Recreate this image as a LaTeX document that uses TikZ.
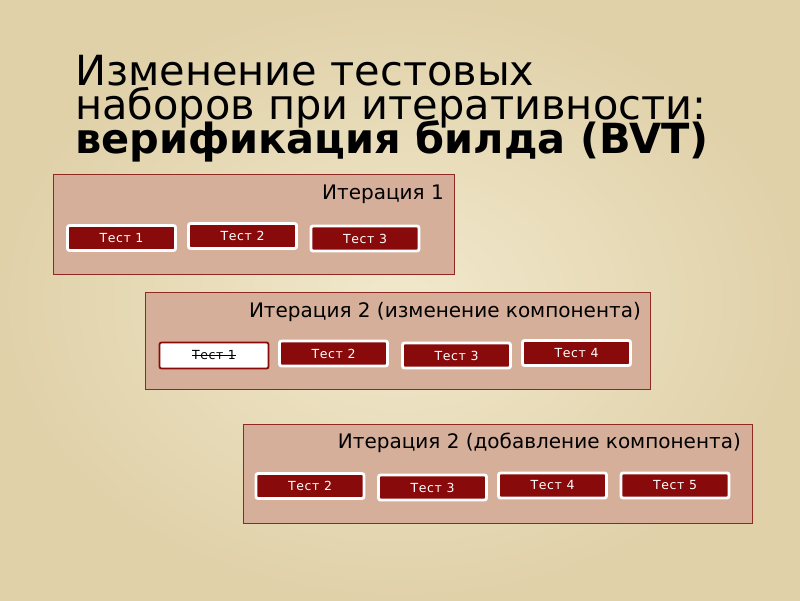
\documentclass[tikz,border=0pt]{standalone}
\usepackage{fontspec}
\setmainfont{DejaVu Sans}
\newfontfamily\testfont[LetterSpace=5]{DejaVu Sans}
\newcommand\mytitlesetup{\fontsize{41.5}{34}\selectfont\lineskiplimit=-100pt\relax\lineskip=0pt\relax}
\definecolor{paper}{HTML}{F1E8CC}
\definecolor{paperdark}{HTML}{E0D1A9}
\definecolor{panel}{HTML}{D5AF9A}
\definecolor{panelline}{HTML}{8E2A22}
\definecolor{testred}{HTML}{880A0A}
\tikzset{
  panelbox/.style={fill=panel, draw=panelline, line width=1pt},
  paneltitle/.style={anchor=base east, font=\fontsize{20}{22}\selectfont, text=black, inner sep=0pt},
  testbox/.style={fill=testred, draw=white, line width=2.8pt, rounded corners=2pt,
    minimum width=108pt, minimum height=25pt, inner sep=0pt,
    text=white, font=\testfont\fontsize{12.5}{14}\selectfont},
  oldbox/.style={fill=white, draw=testred, line width=1.8pt, rounded corners=2pt,
    minimum width=109pt, minimum height=26pt, inner sep=0pt},
  oldlabel/.style={inner sep=0pt, text=black, font=\testfont\fontsize{12.5}{14}\selectfont},
  slidetitle/.style={anchor=base west, inner sep=0pt, text=black, align=left,
    font=\mytitlesetup}
}
\begin{document}
\begin{tikzpicture}[x=1pt,y=-1pt]
\useasboundingbox (0,0) rectangle (800,600);
\shade[inner color=paper, outer color=paperdark] (0,0) rectangle (800,600);

% title (base anchor = baseline of the last line)
\node[slidetitle] (title) at (75,153) {Изменение тестовых\\наборов при итеративности:\\\textbf{верификация билда (BVT)}};

% panel 1
\node[panelbox, anchor=north west, minimum width=401pt, minimum height=100pt, inner sep=0pt] (p1) at (53,174) {};
\node[paneltitle] (p1t) at (444,199) {Итерация 1};
\node[testbox] (a1) at (121.5,238) {Тест 1};
\node[testbox] (a2) at (242.5,236) {Тест 2};
\node[testbox] (a3) at (365,238.5) {Тест 3};

% panel 2
\node[panelbox, anchor=north west, minimum width=505pt, minimum height=97pt, inner sep=0pt] (p2) at (145,292) {};
\node[paneltitle] (p2t) at (641,317) {Итерация 2 (изменение компонента)};
\node[oldbox] (b1) at (214,355.5) {};
\node[oldlabel] (b1l) at (214,355.5) {Тест 1};
\draw[line width=0.8pt] (b1l.west) -- (b1l.east);
\node[testbox] (b2) at (333.5,353.5) {Тест 2};
\node[testbox] (b3) at (456.5,355.5) {Тест 3};
\node[testbox] (b4) at (576.5,353) {Тест 4};

% panel 3
\node[panelbox, anchor=north west, minimum width=509pt, minimum height=99pt, inner sep=0pt] (p3) at (243,424) {};
\node[paneltitle] (p3t) at (741,448) {Итерация 2 (добавление компонента)};
\node[testbox] (c2) at (310,486) {Тест 2};
\node[testbox] (c3) at (432.5,487.5) {Тест 3};
\node[testbox] (c4) at (552.5,485.5) {Тест 4};
\node[testbox] (c5) at (675,485.5) {Тест 5};
\end{tikzpicture}
\end{document}
